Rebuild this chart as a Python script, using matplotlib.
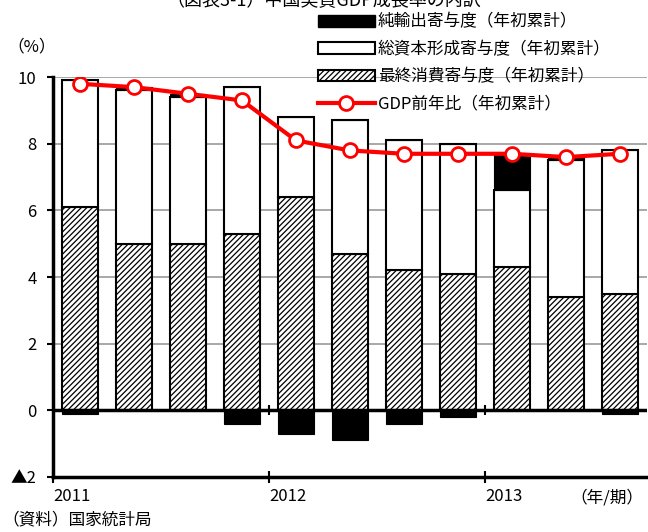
import matplotlib
matplotlib.use("Agg")
import matplotlib.pyplot as plt
from matplotlib.lines import Line2D
from matplotlib.patches import Patch
import numpy as np

plt.rcParams['font.family'] = ['Noto Sans CJK JP', 'DejaVu Sans']
plt.rcParams['hatch.color'] = '#666666'
plt.rcParams['hatch.linewidth'] = 0.9

# 2011Q1 .. 2013Q3, cumulative from start of year
quarters = ['2011Q1', '2011Q2', '2011Q3', '2011Q4', '2012Q1', '2012Q2',
            '2012Q3', '2012Q4', '2013Q1', '2013Q2', '2013Q3']
consumption = [6.1, 5.0, 5.0, 5.3, 6.4, 4.7, 4.2, 4.1, 4.3, 3.4, 3.5]
investment = [3.8, 4.6, 4.4, 4.4, 2.4, 4.0, 3.9, 3.9, 2.3, 4.1, 4.3]
net_exports = [-0.1, 0.1, 0.1, -0.4, -0.7, -0.9, -0.4, -0.2, 1.1, 0.1, -0.1]
gdp = [9.8, 9.7, 9.5, 9.3, 8.1, 7.8, 7.7, 7.7, 7.7, 7.6, 7.7]

year_labels = ['2011', '2012', '2013']
y_ticks = [-2, 0, 2, 4, 6, 8, 10]
y_tick_labels = ['▲2', '0', '2', '4', '6', '8', '10']

labels = ['純輸出寄与度（年初累計）', '総資本形成寄与度（年初累計）',
          '最終消費寄与度（年初累計）', 'GDP前年比（年初累計）']

fig = plt.figure(figsize=(6.48, 5.32), dpi=100)
ax = fig.add_axes([0.082, 0.1034, 0.916, 0.7516])

x = np.arange(len(quarters)) + 0.5
w = 0.67
cons = np.array(consumption)
inv = np.array(investment)
nx_ = np.array(net_exports)

ax.bar(x, cons, w, color='white', edgecolor='black', linewidth=1.5,
       hatch='//////', zorder=3)
ax.bar(x, inv, w, bottom=cons, color='white', edgecolor='black',
       linewidth=1.5, zorder=3)
pos_nx = np.where(nx_ > 0, nx_, 0)
neg_nx = np.where(nx_ < 0, nx_, 0)
ax.bar(x, pos_nx, w, bottom=cons + inv, color='black', edgecolor='black',
       linewidth=0.8, zorder=3)
ax.bar(x, neg_nx, w, color='black', edgecolor='black', linewidth=0.8, zorder=3)

ax.plot(x, gdp, color='red', linewidth=3, marker='o', markersize=10,
        markerfacecolor='white', markeredgecolor='red', markeredgewidth=2,
        zorder=5)

ax.set_xlim(0, len(quarters))
ax.set_ylim(-2, 10)
ax.set_yticks(y_ticks)
ax.set_yticklabels(y_tick_labels, fontsize=12)
year_ticks = [0, 4, 8]
ax.set_xticks(year_ticks)
ax.set_xticklabels(year_labels, fontsize=12, ha='left')
ax.tick_params(axis='x', direction='inout', length=8, width=1.5, pad=4)
ax.tick_params(axis='y', direction='out', length=4, width=1.5, pad=8)

for yv in [2, 4, 6, 8, 10]:
    ax.axhline(yv, color='#999999', linewidth=1.2, zorder=1)
ax.axhline(0, color='black', linewidth=2.5, zorder=4)
ax.vlines(year_ticks[1:], -0.15, 0.15, color='black', linewidth=1.5, zorder=4)

for s in ['top', 'right']:
    ax.spines[s].set_visible(False)
ax.spines['left'].set_linewidth(2.5)
ax.spines['bottom'].set_linewidth(2.5)

handles = [Patch(facecolor='black', edgecolor='black'),
           Patch(facecolor='white', edgecolor='black', linewidth=1.5),
           Patch(facecolor='white', edgecolor='black', linewidth=1.5, hatch='//////'),
           Line2D([], [], color='red', linewidth=3, marker='o', markersize=10,
                  markerfacecolor='white', markeredgecolor='red',
                  markeredgewidth=2)]
leg = fig.legend(handles, labels, loc='upper left', bbox_to_anchor=(0.478, 0.99),
                 frameon=False, fontsize=12, handlelength=3.4, handleheight=0.7,
                 handletextpad=0.2, labelspacing=0.62, borderaxespad=0.1)

fig.text(0.5, 0.998, '（図表3-1）中国実質GDP成長率の内訳', fontsize=13,
         ha='center', va='center')
fig.text(0.012, 0.912, '（%）', fontsize=12, ha='left', va='center')
fig.text(0.993, 0.063, '（年/期）', fontsize=12, ha='right', va='center')
fig.text(0.003, 0.022, '（資料）国家統計局', fontsize=12, ha='left', va='center')

fig.savefig('out.png', dpi=100)
